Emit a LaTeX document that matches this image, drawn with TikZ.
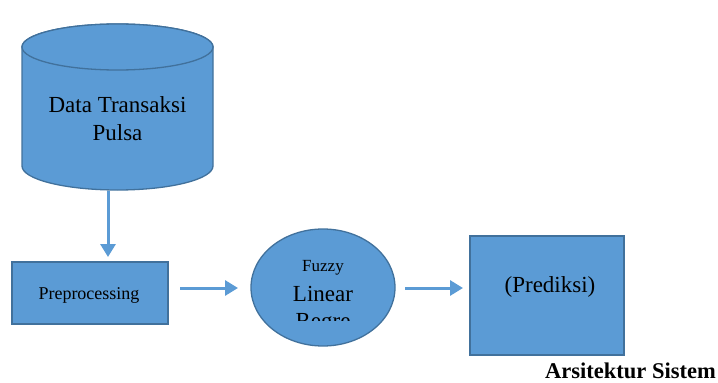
\documentclass[tikz,border=0pt]{standalone}
\usepackage{fontspec}
\setmainfont{Liberation Serif}
\usetikzlibrary{shapes.geometric,arrows.meta}
\definecolor{boxfill}{HTML}{5B9BD5}
\definecolor{boxline}{HTML}{41719C}
\begin{document}
\begin{tikzpicture}[x=1pt,y=-1pt,
  shapebox/.style={fill=boxfill,draw=boxline,line width=1.3pt},
  flow/.style={draw=boxfill,line width=3pt,-{Triangle[length=13pt,width=15pt]}},
  lbl/.style={inner sep=0pt,text=black}]
\useasboundingbox (0,0) rectangle (718,383);
% cylinder
\path[shapebox] (22,47) -- (22,166) arc[start angle=180,end angle=0,x radius=95.5,y radius=24] -- (213,47) arc[start angle=0,end angle=-180,x radius=95.5,y radius=23] -- cycle;
\draw[shapebox] (117.5,47) ellipse[x radius=95.5,y radius=23];
\node[lbl,font=\fontsize{23}{28}\selectfont,align=center] (data) at (117.5,119) {Data Transaksi\\Pulsa};
% preprocessing
\node[shapebox,minimum width=156pt,minimum height=62pt,inner sep=0pt] (pre) at (90,293) {};
\node[lbl,font=\fontsize{18}{20}\selectfont] (pretext) at (89,295) {Preprocessing};
% fuzzy ellipse
\node[shapebox,ellipse,minimum width=144pt,minimum height=117pt,inner sep=0pt] (fuzzy) at (323,287.5) {};
\node[lbl,font=\fontsize{17}{18}\selectfont] (fz1) at (323,268) {Fuzzy};
\node[lbl,font=\fontsize{23}{26}\selectfont] (fz2) at (323,294) {Linear};
\begin{scope}
\clip (280,305) rectangle (370,320.5);
\node[lbl,font=\fontsize{23}{26}\selectfont,anchor=base] (fz3) at (323,328) {Regre};
\end{scope}
% prediksi
\node[shapebox,minimum width=154pt,minimum height=119pt,inner sep=0pt] (pred) at (547,295.5) {};
\node[lbl,font=\fontsize{23}{26}\selectfont] (predtext) at (550,287) {(Prediksi)};
% caption
\node[lbl,font=\fontsize{22.5}{26}\selectfont\bfseries,anchor=east] (cap) at (716,371) {Arsitektur Sistem};
% arrows
\coordinate (a1s) at (108,191);
\coordinate (a1e) at (108,257);
\coordinate (a2s) at (180,288);
\coordinate (a2e) at (238,288);
\coordinate (a3s) at (405,288);
\coordinate (a3e) at (463,288);
\draw[flow] (a1s) -- (a1e);
\draw[flow] (a2s) -- (a2e);
\draw[flow] (a3s) -- (a3e);
\end{tikzpicture}
\end{document}
